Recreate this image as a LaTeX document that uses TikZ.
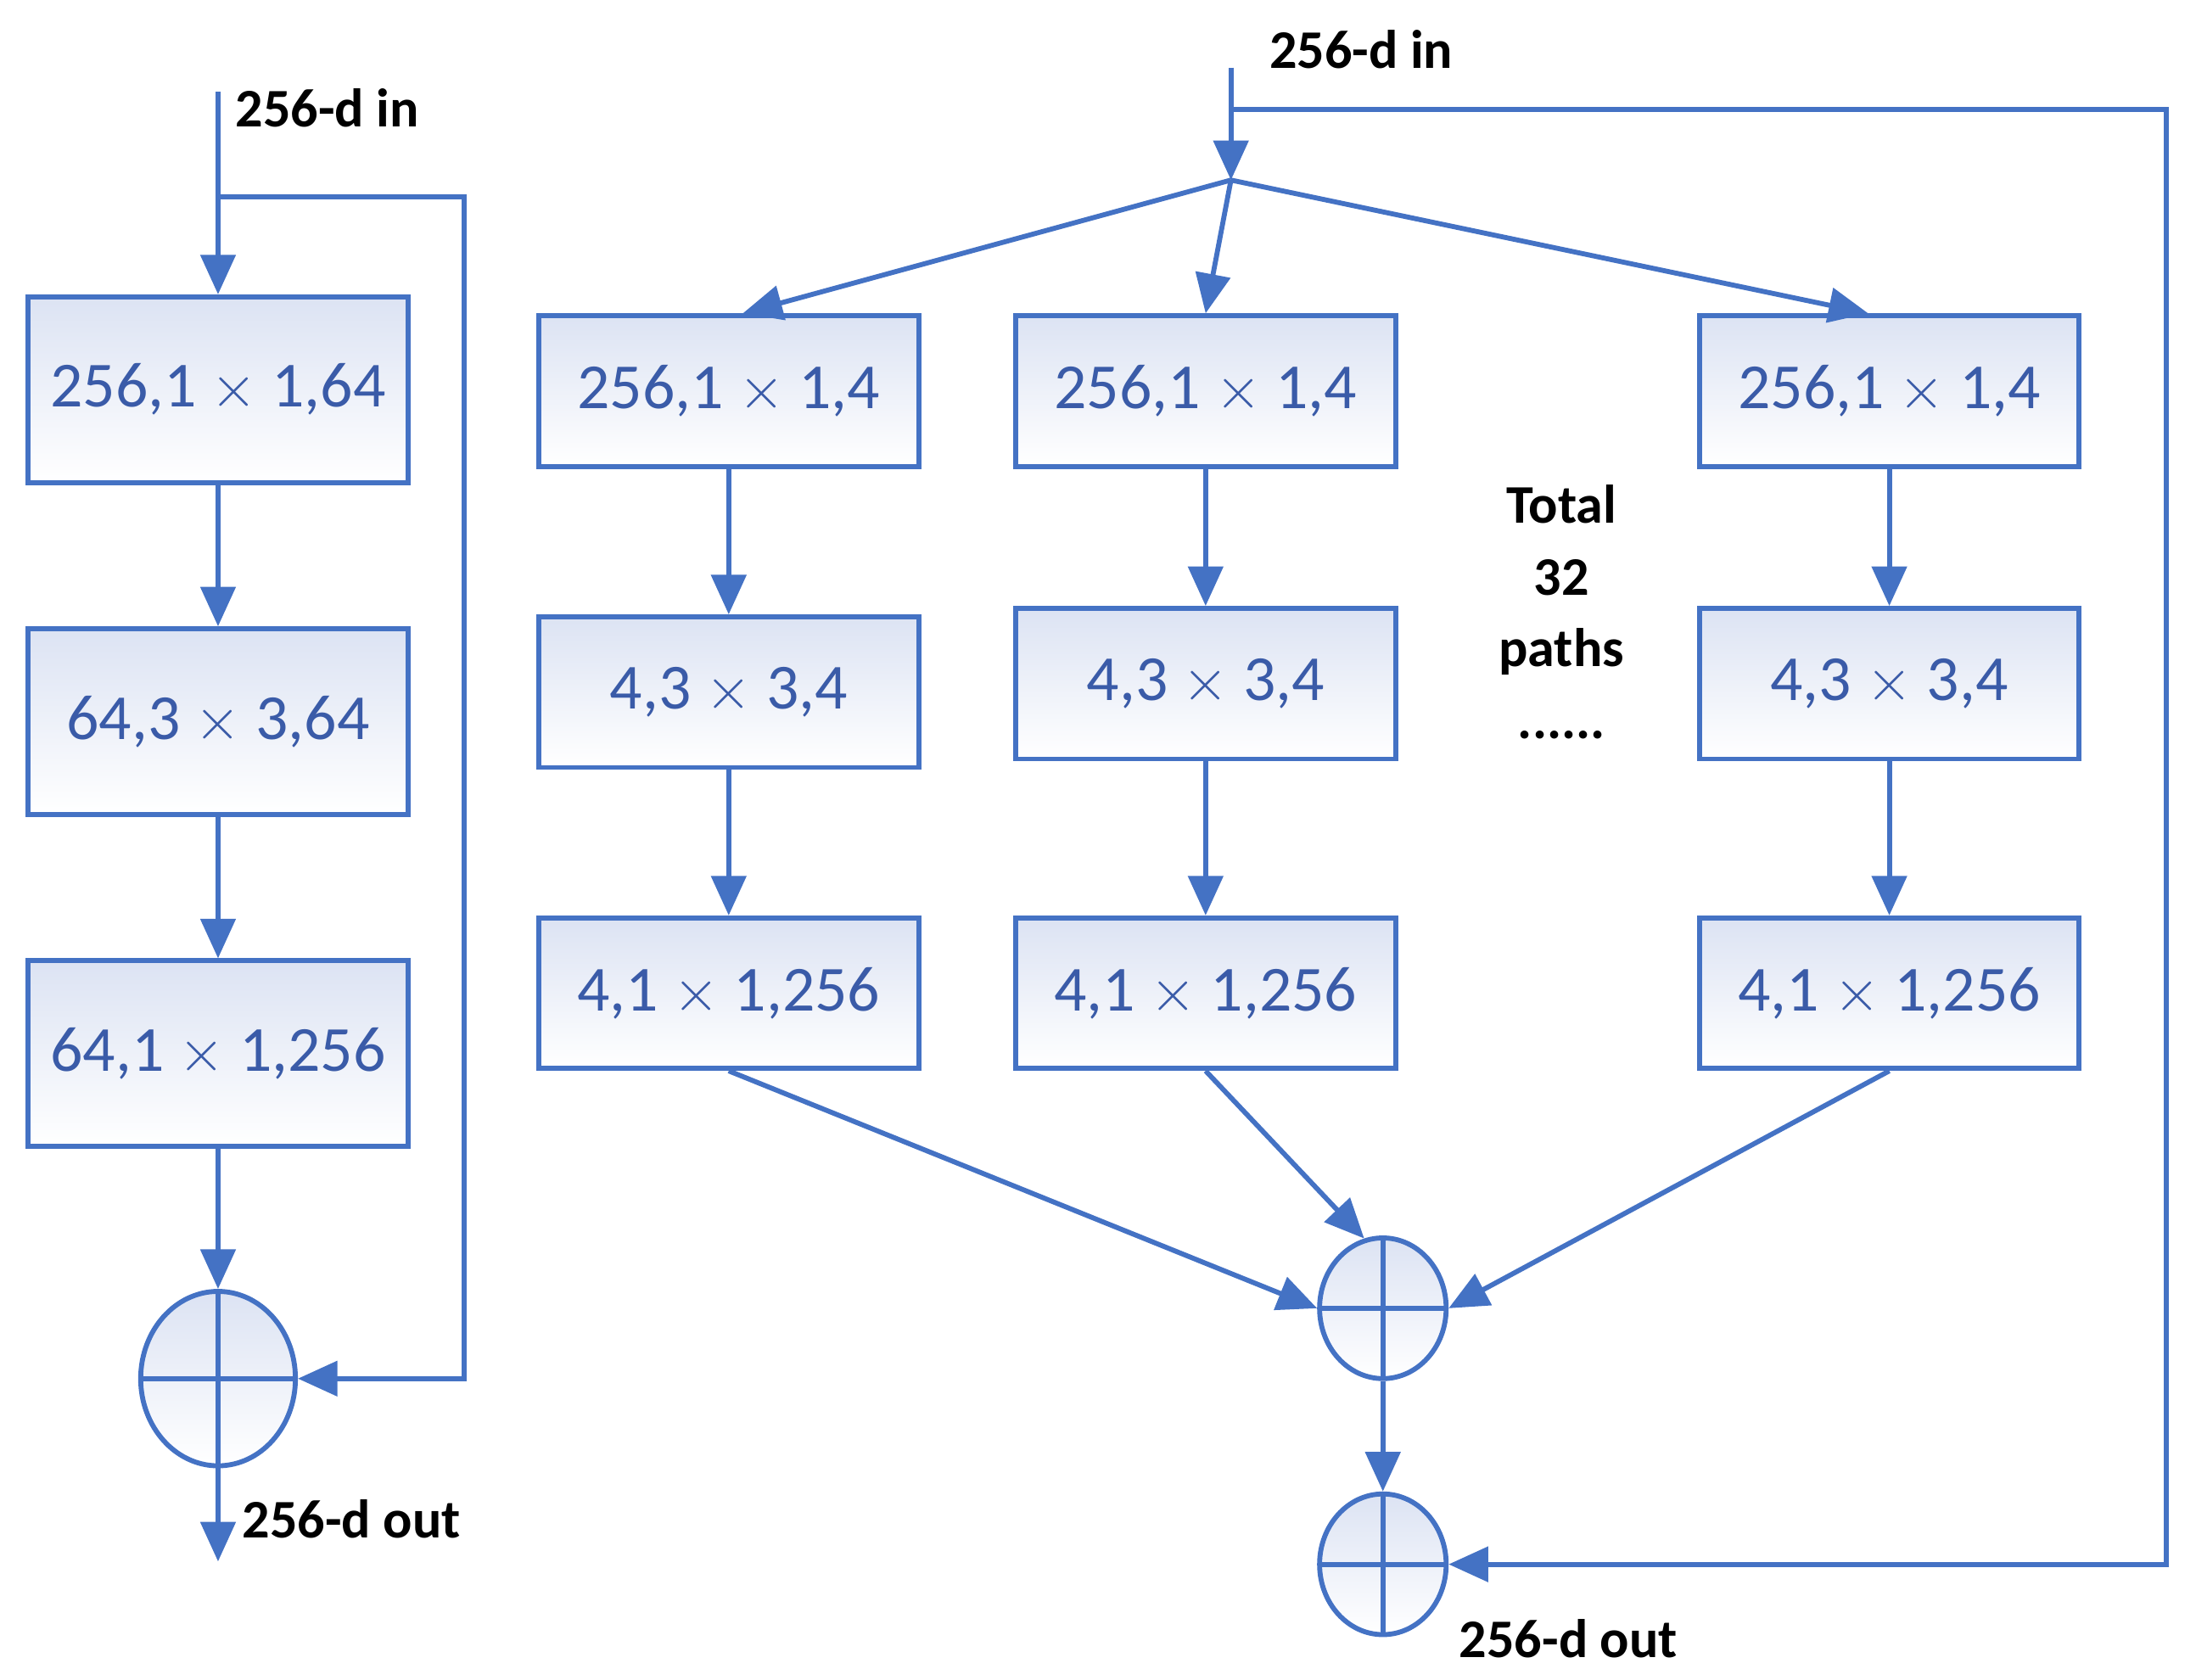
\documentclass[tikz,border=0pt]{standalone}
\usepackage{fontspec}
\setmainfont{Carlito}
\usetikzlibrary{arrows.meta,shapes.geometric}
\definecolor{lineblue}{HTML}{4472C4}
\definecolor{textblue}{HTML}{3A5BA8}
\definecolor{topfill}{HTML}{DCE3F3}

\tikzset{
  blk/.style={draw=lineblue, line width=1pt, top color=topfill, bottom color=white,
    inner sep=0pt, minimum width=2.7cm, minimum height=#1, text=textblue,
    font=\fontsize{13}{15}\selectfont},
  blk/.default=1.07cm,
  sum/.style={draw=lineblue, line width=1pt, ellipse, top color=topfill, bottom color=white,
    path picture={\draw[lineblue, line width=1pt]
      (path picture bounding box.north) -- (path picture bounding box.south)
      (path picture bounding box.west) -- (path picture bounding box.east);}},
  lbl/.style={font=\bfseries\fontsize{11}{13}\selectfont, right},
  arr/.style={draw=lineblue, line width=1pt, -{Triangle[length=8pt, width=7pt]}},
  ln/.style={draw=lineblue, line width=1pt}
}

\begin{document}
\begin{tikzpicture}[y=-1cm]
\useasboundingbox (0,0) rectangle (15.61,11.94);

% left block
\coordinate (lin) at (1.55,0.65);
\coordinate (lsplit) at (1.55,1.40);
\coordinate (lout) at (1.55,11.10);
\node[blk=1.32cm] (l1) at (1.55,2.77) {256,1 $\times$ 1,64};
\node[blk=1.32cm] (l2) at (1.55,5.13) {64,3 $\times$ 3,64};
\node[blk=1.32cm] (l3) at (1.55,7.49) {64,1 $\times$ 1,256};
\node[sum, minimum width=1.1cm, minimum height=1.24cm] (ls) at (1.55,9.80) {};
\node[lbl] (lintxt) at (1.55,0.77) {256-d in};
\node[lbl] (louttxt) at (1.60,10.80) {256-d out};

\draw[ln] (lin) -- (lsplit);
\draw[arr] (lsplit) -- (l1);
\draw[arr] (l1) -- (l2);
\draw[arr] (l2) -- (l3);
\draw[arr] (l3) -- (ls);
\draw[arr] (ls) -- (lout);
\draw[arr] (lsplit) -| (3.30,9.80) -- (ls.east);

% right block
\coordinate (rin) at (8.75,0.48);
\coordinate (rsplit) at (8.75,1.28);
\coordinate (rskip) at (8.75,0.78);
\node[blk] (a1) at (5.18,2.78) {256,1 $\times$ 1,4};
\node[blk] (b1) at (8.57,2.78) {256,1 $\times$ 1,4};
\node[blk] (c1) at (13.43,2.78) {256,1 $\times$ 1,4};
\node[blk] (a2) at (5.18,4.92) {4,3 $\times$ 3,4};
\node[blk] (b2) at (8.57,4.86) {4,3 $\times$ 3,4};
\node[blk] (c2) at (13.43,4.86) {4,3 $\times$ 3,4};
\node[blk] (a3) at (5.18,7.06) {4,1 $\times$ 1,256};
\node[blk] (b3) at (8.57,7.06) {4,1 $\times$ 1,256};
\node[blk] (c3) at (13.43,7.06) {4,1 $\times$ 1,256};
\node[sum, minimum width=0.9cm, minimum height=1.0cm] (s1) at (9.83,9.30) {};
\node[sum, minimum width=0.9cm, minimum height=1.0cm] (s2) at (9.83,11.12) {};
\node[font=\bfseries\fontsize{11}{14.5}\selectfont, align=center] (paths) at (11.10,4.35)
  {Total\\32\\paths\\......};
\node[lbl] (rintxt) at (8.90,0.35) {256-d in};
\node[lbl] (routtxt) at (10.25,11.65) {256-d out};

\draw[arr] (rin) -- (rsplit);
\draw[arr] (rsplit) -- ([xshift=0.1cm]a1.north);
\draw[arr] (rsplit) -- (b1.north);
\draw[arr] (rsplit) -- ([xshift=-0.15cm]c1.north);
\draw[arr] (a1) -- (a2);
\draw[arr] (b1) -- (b2);
\draw[arr] (c1) -- (c2);
\draw[arr] (a2) -- (a3);
\draw[arr] (b2) -- (b3);
\draw[arr] (c2) -- (c3);
\draw[arr] (a3.south) -- (s1.west);
\draw[arr] (b3.south) -- (s1.105);
\draw[arr] (c3.south) -- (s1.east);
\draw[arr] (s1) -- (s2);
\draw[arr] (rskip) -| (15.40,11.12) -- (s2.east);

\end{tikzpicture}
\end{document}
